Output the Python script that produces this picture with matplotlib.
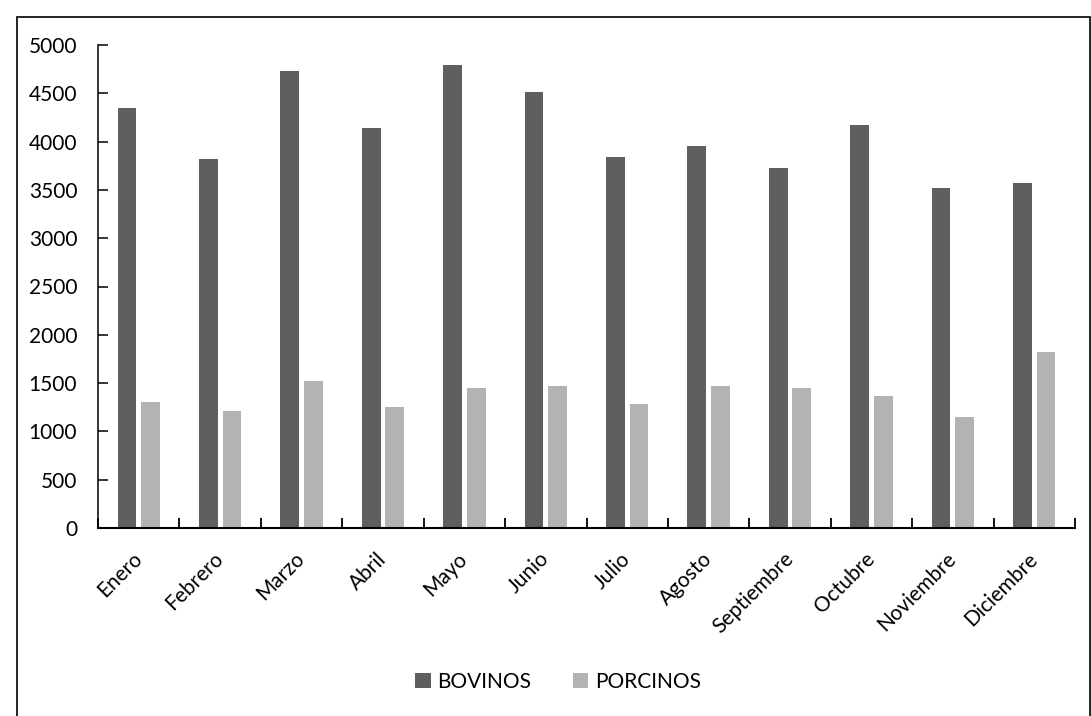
import numpy as np
import matplotlib
matplotlib.use("Agg")
import matplotlib.pyplot as plt
from matplotlib.patches import Rectangle

plt.rcParams['font.family'] = ['Lato', 'DejaVu Sans']

meses = ['Enero', 'Febrero', 'Marzo', 'Abril', 'Mayo', 'Junio', 'Julio',
         'Agosto', 'Septiembre', 'Octubre', 'Noviembre', 'Diciembre']
bovinos = [4348, 3820, 4731, 4138, 4790, 4510, 3840, 3951, 3724, 4169, 3523, 3568]
porcinos = [1301, 1211, 1522, 1253, 1452, 1470, 1284, 1467, 1446, 1366, 1152, 1819]

fig = plt.figure(figsize=(10.91, 7.16), dpi=100)
ax = fig.add_axes([98/1091, 1 - 528/716, (1075 - 98)/1091, (528 - 45)/716])

x = np.arange(len(meses))
w = 0.23
ax.bar(x - 0.145, bovinos, w, color='#5f5f5f', label='BOVINOS')
ax.bar(x + 0.145, porcinos, w, color='#b3b3b3', label='PORCINOS')

ax.set_xlim(-0.5, len(meses) - 0.5)
ax.set_ylim(0, 5000)
ax.set_yticks(range(0, 5001, 500))
ax.set_xticks(x)
ax.set_xticklabels(meses, rotation=45, ha='right', va='center', rotation_mode='anchor')
ax.set_xticks(np.arange(-0.5, len(meses)), minor=True)

ax.tick_params(axis='x', which='major', length=0, pad=20, labelsize=15)
ax.tick_params(axis='x', which='minor', direction='in', length=7, width=1.3)
ax.tick_params(axis='y', direction='in', length=7, width=1.1, pad=15, labelsize=15)

for s in ['top', 'right']:
    ax.spines[s].set_visible(False)
ax.spines['left'].set_linewidth(1.1)
ax.spines['bottom'].set_linewidth(1.5)

fig.legend(loc='center', bbox_to_anchor=(558/1091, 1 - 682/716), ncol=2,
           frameon=False, fontsize=15, handlelength=0.75, handleheight=0.75,
           handletextpad=0.3, columnspacing=2.0)

# marco exterior del grafico
fig.patches.append(Rectangle((17/1091, -0.05), (1089.5 - 17)/1091, 1.05 - 17/716,
                             transform=fig.transFigure, fill=False,
                             edgecolor='black', linewidth=1.2))

fig.savefig('out.png', dpi=100)
